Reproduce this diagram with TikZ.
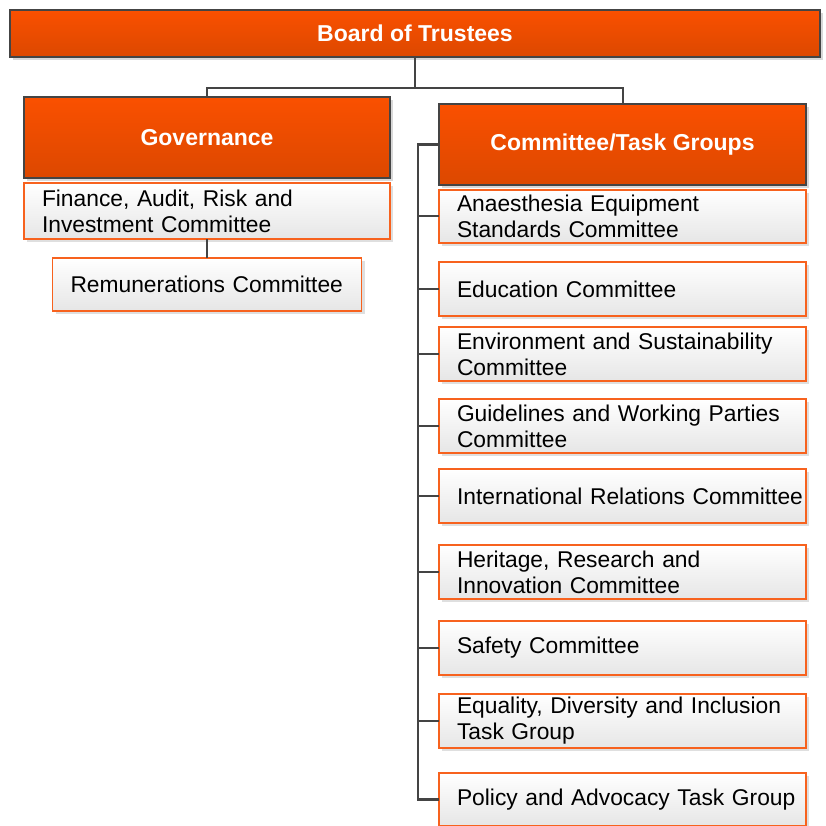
\documentclass[tikz,border=0pt]{standalone}
\usepackage{fontspec}
\setmainfont{Liberation Sans}
\usetikzlibrary{positioning, shadows}
\definecolor{boorange}{HTML}{FA5000}
\definecolor{bodark}{HTML}{DC4800}
\definecolor{boedge}{HTML}{F7621E}
\definecolor{bogrey}{HTML}{444444}
\definecolor{bopale}{HTML}{E6E6E6}

\begin{document}
\begin{tikzpicture}[
    x=1pt, y=-1pt,
    head/.style={rectangle, draw=bogrey, top color=boorange, bottom color=bodark,
                 line width=1.5pt, text=white, font=\fontsize{23}{27}\selectfont\bfseries,
                 minimum width=#1, minimum height=81pt, align=center, outer sep=0pt,
                 drop shadow={shadow xshift=3pt, shadow yshift=-3pt, fill=black!30, opacity=0.5}},
    member/.style={rectangle, draw=boedge, top color=white, bottom color=bopale,
                 line width=1.6pt, font=\fontsize{22.8}{26}\selectfont,
                 text width=#1, inner xsep=18pt, inner ysep=0.5pt, outer sep=0pt,
                 minimum height=54pt, align=left,
                 drop shadow={shadow xshift=3pt, shadow yshift=-3pt, fill=black!25, opacity=0.5}},
    member/.default=331pt,
    link/.style={draw=bogrey, line width=2pt}
  ]
    \useasboundingbox (0,0) rectangle (826,826);
    \node[head=810pt, minimum height=47pt] (board) at (415,33.5) {Board of Trustees};
    \node[head=366pt] (gov) at (207,137.5) {Governance};
    \node[member=330pt, minimum height=56pt, below=5pt of gov] (fin) {Finance, Audit, Risk and\\Investment Committee};
    \node[member=273pt, minimum height=53pt, below=19pt of fin] (remun) {Remunerations Committee};
    \node[head=367pt] (ctg) at (622.5,144.5) {Committee/Task Groups};
    \node[member, minimum height=53pt, below=5pt of ctg] (aes) {Anaesthesia Equipment\\Standards Committee};
    \node[member, below=19pt of aes] (edu) {Education Committee};
    \node[member, below=11pt of edu] (env) {Environment and Sustainability\\Committee};
    \node[member, below=18pt of env] (guide) {Guidelines and Working Parties\\Committee};
    \node[member, below=16pt of guide] (intl) {\mbox{International Relations Committee}};
    \node[member, below=22pt of intl] (herit) {Heritage, Research and\\Innovation Committee};
    \node[member, below=22pt of herit] (safety) {Safety Committee};
    \node[member, below=19pt of safety] (edi) {Equality, Diversity and Inclusion\\Task Group};
    \node[member, minimum height=53pt, below=25pt of edi] (policy) {\mbox{Policy and Advocacy Task Group}};
    % board to the two branches
    \draw[link] (board.south) -- ++(0,31) coordinate (split);
    \draw[link] (gov.north) |- (split) -| (ctg.north);
    \draw[link] (fin.south) -- (remun.north);
    % committee trunk
    \draw[link, line width=2.6pt] (ctg.west) -- ++(-21,0) coordinate (trunk) |- (policy.west);
    \foreach \c in {aes, edu, env, guide, intl, herit, safety, edi}
      \draw[link] (trunk |- \c.west) -- (\c.west);
  \end{tikzpicture}
\end{document}
